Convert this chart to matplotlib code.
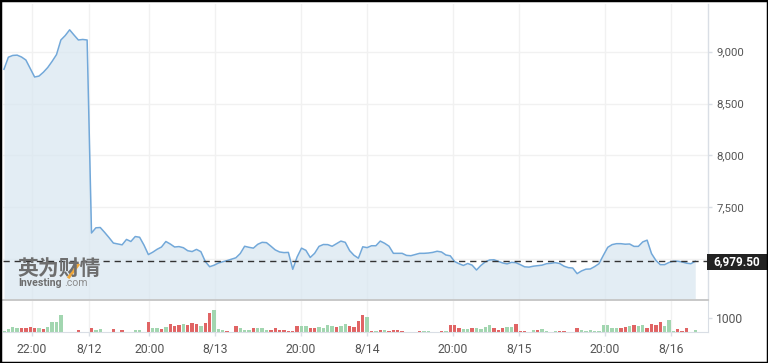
import numpy as np
import matplotlib
matplotlib.use("Agg")
import matplotlib.pyplot as plt
from matplotlib.patches import Rectangle
from matplotlib.lines import Line2D

# ---------------- data ----------------
price = [8831, 8947, 8964, 8967, 8949, 8920, 8839, 8756, 8765, 8802,
         8848, 8907, 8972, 9113, 9156, 9211, 9161, 9113, 9118, 9113,
         7252, 7302, 7305, 7258, 7208, 7155, 7146, 7138, 7190, 7170,
         7218, 7211, 7135, 7044, 7067, 7095, 7117, 7170, 7146, 7117,
         7121, 7110, 7081, 7073, 7094, 7072, 6978, 6927, 6941, 6962,
         6975, 6986, 6999, 7013, 7054, 7124, 7114, 7106, 7143, 7162,
         7159, 7125, 7089, 7069, 7063, 7065, 6902, 7021, 7106, 7085,
         7016, 7056, 7123, 7141, 7140, 7124, 7149, 7174, 7162, 7082,
         7037, 7009, 7119, 7111, 7129, 7129, 7174, 7153, 7125, 7056,
         7056, 7056, 7036, 7033, 7045, 7056, 7056, 7059, 7065, 7076,
         7069, 7040, 7032, 6977, 6956, 6939, 6958, 6942, 6895, 6939,
         6973, 6992, 6994, 6979, 6963, 6954, 6969, 6966, 6947, 6926,
         6923, 6932, 6937, 6942, 6956, 6960, 6966, 6958, 6932, 6918,
         6914, 6860, 6886, 6903, 6905, 6928, 6956, 7037, 7114, 7140,
         7149, 7149, 7144, 7146, 7123, 7123, 7166, 7183, 7054, 6988,
         6947, 6947, 6968, 6980, 6980, 6973, 6961, 6956, 6979.5]

volume = [90, 190, 350, 260, 280, 280, 350, 260, 280, 230,
          350, 680, 680, 1240, 30, 30, 30, 120, 30, 30,
          260, 120, 190, 30, 30, 190, 30, 120, 30, 30,
          120, 120, 30, 680, 280, 280, 190, 350, 540, 420,
          470, 540, 470, 610, 540, 420, 610, 1380, 1540, 190,
          140, 70, 30, 400, 260, 140, 140, 260, 260, 260,
          140, 140, 260, 140, 140, 70, 70, 400, 400, 400,
          300, 260, 330, 260, 470, 420, 370, 440, 580, 440,
          370, 790, 1210, 1070, 70, 70, 120, 120, 70, 120,
          120, 70, 0, 0, 0, 70, 70, 70, 0, 0,
          70, 70, 470, 470, 260, 190, 190, 260, 260, 190,
          330, 470, 260, 120, 260, 330, 330, 540, 70, 70,
          0, 120, 120, 190, 70, 0, 70, 70, 70, 0,
          0, 260, 120, 70, 120, 70, 70, 470, 470, 260,
          260, 260, 330, 400, 470, 400, 470, 260, 540, 470,
          680, 400, 840, 70, 190, 70, 260, 0, 120]

vol_dir = ("GGGGRRRRGR" "GGGGGGRRRR" "RGGRRRGRRR" "GGRRGGRGRR" "RGRRRGRRGG"
           "GRRRGGGRGG" "GRRRRRRRGG" "RRGGGGRGGR" "RRRGRGRGRR" "RRGGGRGGGG"
           "RGRRRGGRGG" "GGRRRGGRRR" "GGRGGGGRRG" "GRGGGGGGGG" "GRRGRGGRRR"
           "RGGGRRRGG")

tick_pos = [6.33, 19.5, 33.2, 48.2, 67.8, 83.0, 102.6, 117.8, 137.3, 152.5]
tick_labels = ["22:00", "8/12", "20:00", "8/13", "20:00", "8/14",
               "20:00", "8/15", "20:00", "8/16"]
price_ticks = [7500, 8000, 8500, 9000]
price_tick_labels = ["7,500", "8,000", "8,500", "9,000"]
vol_ticks = [1000]
last_price = 6979.5
last_label = "6,979.50"

# ---------------- layout ----------------
W, H = 768, 363
fig = plt.figure(figsize=(W / 100, H / 100), dpi=100)
fig.patch.set_facecolor("white")

def fx(px):
    return px / W

def fy(py):
    return 1 - py / H

L, R = 3, 708
ax = fig.add_axes([fx(L), fy(300), fx(R) - fx(L), fy(4) - fy(300)])
axv = fig.add_axes([fx(L), fy(332), fx(R) - fx(L), fy(301) - fy(332)])

x = np.arange(len(price))
xl = ((L - 4) / 4.375, (R - 4) / 4.375)

tick_color = "#555555"
grid_color = "#f1f1f1"
axis_color = "#d9dee5"
font = "Roboto"

# ---------------- price panel ----------------
ymin, ymax = 6606, 9460
ax.set_xlim(*xl)
ax.set_ylim(ymin, ymax)
for t in tick_pos:
    ax.axvline(t, color=grid_color, lw=1, zorder=0)
for t in price_ticks + [7000]:
    ax.axhline(t, color=grid_color, lw=1, zorder=0)
ax.fill_between(x, price, ymin, color="#d9e6f0", alpha=0.72, lw=0, zorder=1)
ax.plot(x, price, color="#72a8d9", lw=1.1, zorder=3)
ax.axhline(last_price, color="#333333", lw=1, dashes=(4.5, 3.5), zorder=4)

for s in ["top", "left", "bottom"]:
    ax.spines[s].set_visible(False)
ax.spines["right"].set_color(axis_color)
ax.spines["right"].set_linewidth(1)
ax.yaxis.tick_right()
ax.set_yticks(price_ticks)
ax.set_yticklabels(price_tick_labels)
ax.tick_params(axis="y", length=3, width=1, color=axis_color, pad=3,
               labelsize=8.2, labelcolor=tick_color)
for lab in ax.get_yticklabels():
    lab.set_fontfamily(font)
ax.set_xticks([])

# separator line
ax.axhline(ymin, color="#c8c8c8", lw=1.4, zorder=5, clip_on=False)

# ---------------- volume panel ----------------
vmax = 2214
axv.set_xlim(*xl)
axv.set_ylim(0, vmax)
for t in tick_pos:
    axv.axvline(t, color=grid_color, lw=1, zorder=0)
colors = ["#a2d6b0" if d == "G" else "#e06464" for d in vol_dir]
axv.bar(x, volume, width=0.75, color=colors, lw=0, zorder=2)
for s in ["top", "left"]:
    axv.spines[s].set_visible(False)
axv.spines["right"].set_color(axis_color)
axv.spines["bottom"].set_color(axis_color)
axv.yaxis.tick_right()
axv.set_yticks(vol_ticks)
axv.set_yticklabels([str(v) for v in vol_ticks])
axv.tick_params(axis="y", length=3, width=1, color=axis_color, pad=3,
                labelsize=8.7, labelcolor=tick_color)
axv.set_xticks(tick_pos)
axv.set_xticklabels(tick_labels)
axv.tick_params(axis="x", length=3, width=1, color=axis_color, pad=5,
                labelsize=8.8, labelcolor=tick_color)
for lab in axv.get_yticklabels() + axv.get_xticklabels():
    lab.set_fontfamily(font)

# ---------------- last price tag ----------------
fig.add_artist(Rectangle((fx(707), fy(270)), fx(770) - fx(707), fy(254) - fy(270),
                         transform=fig.transFigure, facecolor="#222222",
                         edgecolor="none", zorder=10))
fig.text(fx(713), fy(262), last_label, color="white", fontsize=8.5,
         fontweight="bold", family=font, ha="left", va="center", zorder=11)

# ---------------- watermark ----------------
fig.text(fx(17), fy(268), "英为财情", family=["Noto Sans CJK SC", "DejaVu Sans"],
         fontsize=15, fontweight="bold", color="#6e6e6e", ha="left",
         va="center", zorder=2)
fig.add_artist(Line2D([fx(69), fx(78)], [fy(277), fy(265)],
                      transform=fig.transFigure, color="#f2a93b", lw=2.2,
                      zorder=2))
fig.text(fx(18), fy(286), "Investing", family=font, fontsize=7.6,
         fontweight="bold", color="#6e6e6e", ha="left", va="baseline")
fig.text(fx(64), fy(286), ".com", family=font, fontsize=7.6,
         color="#8c8c8c", ha="left", va="baseline")

# ---------------- outer frame ----------------
fig.add_artist(Rectangle((0, 0), 1, 1, transform=fig.transFigure,
                         fill=False, edgecolor="black", lw=2.5, zorder=20))

fig.savefig("out.png", dpi=100)
